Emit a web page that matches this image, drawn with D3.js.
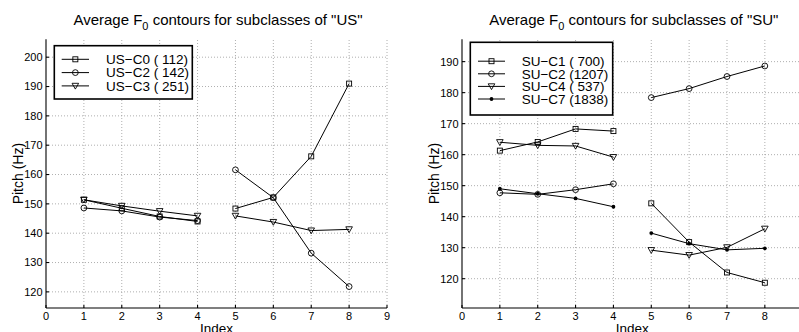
<!DOCTYPE html>
<html><head><meta charset="utf-8">
<script src="https://cdn.jsdelivr.net/npm/d3@7"></script>
<style>
html,body{margin:0;padding:0;background:#fff;}
svg{display:block;font-family:"Liberation Sans",Arial,Helvetica,sans-serif;}
</style></head>
<body>
<svg id="chart" width="799" height="332"></svg>
<script>
// ---- data ----
const indices = [1,2,3,4,5,6,7,8];
const xTicks = [0,1,2,3,4,5,6,7,8,9];
const usYTicks = [120,130,140,150,160,170,180,190,200];
const suYTicks = [120,130,140,150,160,170,180,190];

const usNames = ["US\u2212C0 ( 112)","US\u2212C2 ( 142)","US\u2212C3 ( 251)"];
const usMarkers = ["square","circle","triangle"];
const usC0 = [151.4,148.5,145.7,144.0,148.4,152.2,166.2,191.0];
const usC2 = [148.6,147.6,145.5,144.3,161.6,152.1,133.2,121.8];
const usC3 = [151.4,149.3,147.5,145.9,145.9,143.8,140.9,141.3];

const suNames = ["SU\u2212C1 ( 700)","SU\u2212C2 (1207)","SU\u2212C4 ( 537)","SU\u2212C7 (1838)"];
const suMarkers = ["square","circle","triangle","dot"];
const suC1 = [161.3,164.1,168.3,167.6,144.3,131.8,122.0,118.7];
const suC2 = [147.7,147.2,148.7,150.6,178.4,181.3,185.2,188.6];
const suC4 = [164.0,163.0,162.8,159.2,129.2,127.6,130.1,136.1];
const suC7 = [149.0,147.4,145.9,143.2,134.7,131.3,129.3,129.8];

const svg = d3.select("#chart");

function marker(g, type, x, y){
  if(type==="square"){
    g.append("rect").attr("x",x-2.5).attr("y",y-2.5).attr("width",5).attr("height",5)
      .attr("fill","none").attr("stroke","#000").attr("stroke-width",0.9);
  } else if(type==="circle"){
    g.append("circle").attr("cx",x).attr("cy",y).attr("r",2.9)
      .attr("fill","none").attr("stroke","#000").attr("stroke-width",0.9);
  } else if(type==="triangle"){
    g.append("path").attr("d",`M${x-3.3},${y-2.6}L${x+3.3},${y-2.6}L${x},${y+3.2}Z`)
      .attr("fill","none").attr("stroke","#000").attr("stroke-width",0.9);
  } else {
    g.append("circle").attr("cx",x).attr("cy",y).attr("r",1.9).attr("fill","#000");
  }
}

function panel(opts){
  const {x0,x1,yDomain,yTicks,series,names,markers,title,legendBox,legendRows,rightLimit} = opts;
  const bottom = 308, top = 39.3;
  const g = svg.append("g");
  const x = d3.scaleLinear().domain([0,9]).range([x0,x1]);
  const y = d3.scaleLinear().domain(yDomain).range([bottom, top]);
  const gridRight = Math.min(x1, rightLimit);

  // grid
  const grid = g.append("g").attr("stroke","#9a9a9a").attr("stroke-width",0.8).attr("stroke-dasharray","1,2");
  xTicks.forEach(t=>{ if(t>0 && x(t)<=rightLimit) grid.append("line").attr("x1",x(t)).attr("x2",x(t)).attr("y1",bottom).attr("y2",top); });
  yTicks.forEach(t=>{ grid.append("line").attr("x1",x0).attr("x2",gridRight).attr("y1",y(t)).attr("y2",y(t)); });

  // axes
  const ax = g.append("g").attr("stroke","#000").attr("stroke-width",1.1);
  ax.append("line").attr("x1",x0).attr("x2",x0).attr("y1",top).attr("y2",bottom);
  ax.append("line").attr("x1",x0).attr("x2",gridRight).attr("y1",bottom).attr("y2",bottom);
  xTicks.forEach(t=>{ if(x(t)<=rightLimit) ax.append("line").attr("x1",x(t)).attr("x2",x(t)).attr("y1",bottom).attr("y2",bottom-3); });
  yTicks.forEach(t=>{ ax.append("line").attr("x1",x0).attr("x2",x0+3).attr("y1",y(t)).attr("y2",y(t)); });

  // tick labels
  const tl = g.append("g").attr("font-size",11).attr("fill","#000");
  xTicks.forEach(t=>{ if(x(t)+4<=rightLimit) tl.append("text").attr("x",x(t)).attr("y",bottom+11.5).attr("text-anchor","middle").text(t); });
  yTicks.forEach(t=>{ tl.append("text").attr("x",x0-3.5).attr("y",y(t)).attr("dy","0.36em").attr("text-anchor","end").text(t); });

  // labels
  const cx = (x0+x1)/2;
  g.append("text").attr("x",cx).attr("y",333).attr("text-anchor","middle").attr("font-size",13.5).text("Index");
  const cy = (top+bottom)/2;
  g.append("text").attr("transform",`translate(${x0-23},${cy}) rotate(-90)`).attr("text-anchor","middle")
    .attr("font-size",14).text("Pitch (Hz)");
  const tt = g.append("text").attr("x",cx+1.5).attr("y",25).attr("text-anchor","middle").attr("font-size",15);
  tt.append("tspan").text("Average F");
  tt.append("tspan").attr("font-size",11).attr("dy",4.5).text("0");
  tt.append("tspan").attr("dy",-4.5).text(" contours for subclasses of \"" + title + "\"");

  // series
  const line = d3.line().x(d=>x(d[0])).y(d=>y(d[1]));
  series.forEach((s,i)=>{
    const pts = indices.map((k,j)=>[k,s[j]]);
    const sg = g.append("g");
    [pts.slice(0,4), pts.slice(4)].forEach(seg=>{
      sg.append("path").attr("d",line(seg)).attr("fill","none").attr("stroke","#000").attr("stroke-width",1);
    });
    pts.forEach(p=>marker(sg, markers[i], x(p[0]), y(p[1])));
  });

  // legend
  const lg = g.append("g");
  lg.append("rect").attr("x",legendBox[0]).attr("y",legendBox[1]).attr("width",legendBox[2]).attr("height",legendBox[3])
    .attr("fill","#fff").attr("stroke","#000").attr("stroke-width",1.6);
  names.forEach((n,i)=>{
    const ry = legendRows.y0 + i*legendRows.dy;
    lg.append("line").attr("x1",legendRows.lx1).attr("x2",legendRows.lx2).attr("y1",ry).attr("y2",ry).attr("stroke","#000").attr("stroke-width",1);
    marker(lg, markers[i], (legendRows.lx1+legendRows.lx2)/2, ry);
    lg.append("text").attr("x",legendRows.tx).attr("y",ry).attr("dy","0.36em").attr("font-size",13.5).text(n);
  });
}

panel({
  x0:46, x1:387, yDomain:[114.5,206.1], yTicks:usYTicks,
  series:[usC0,usC2,usC3], names:usNames, markers:usMarkers, title:"US",
  legendBox:[54.3,45.7,138,53.3], legendRows:{y0:59.3,dy:13.3,lx1:61.7,lx2:89,tx:106},
  rightLimit:799
});
panel({
  x0:462, x1:802.7, yDomain:[110.55,197.2], yTicks:suYTicks,
  series:[suC1,suC2,suC4,suC7], names:suNames, markers:suMarkers, title:"SU",
  legendBox:[470.3,42.3,142.4,72.7], legendRows:{y0:61.2,dy:12.6,lx1:478,lx2:505,tx:521.7},
  rightLimit:799
});
</script>
</body></html>
